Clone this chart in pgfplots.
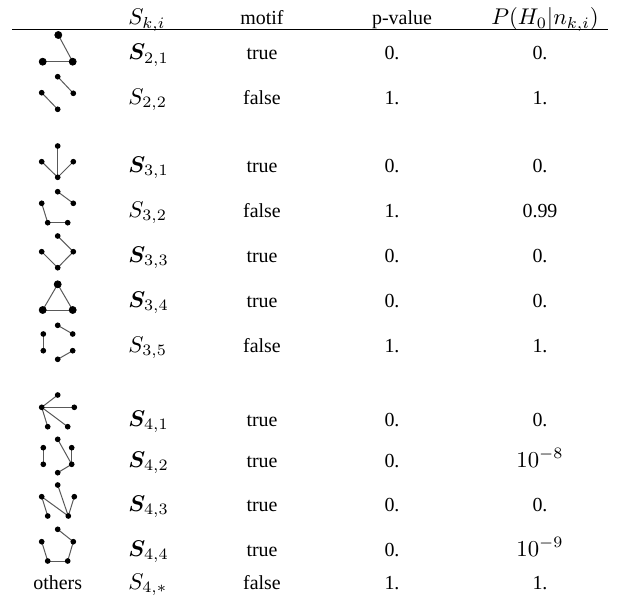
\documentclass[border=0pt]{standalone}
\usepackage{fontspec}
\setmainfont{Liberation Serif}
\usepackage{amsmath,bm}
\usepackage{graphicx}
\usepackage{pgfplots}
\pgfplotsset{compat=1.18}

% edge and vertex styles for the small subgraph glyphs
\pgfplotsset{
    edgeline/.style={draw=black!65,line width=0.5pt,mark=none,forget plot},
    vsmall/.style={only marks,mark=*,mark size=1.2pt,black,forget plot},
    vbig/.style={only marks,mark=*,mark size=1.75pt,black,forget plot}
}
\newcommand{\edge}[4]{\addplot[edgeline] coordinates {(#1,#2)(#3,#4)};}
% math in the table is set a little larger than the text
\newcommand{\M}[1]{\scalebox{1.14}{$#1$}}

\begin{document}
\begin{tikzpicture}
\begin{axis}[
    hide axis,
    scale only axis,
    width=311.5bp,
    height=299.5bp,
    xmin=0, xmax=623,
    ymin=0, ymax=599,
    y dir=reverse,
    clip=false
]
\addplot[draw=none,forget plot] coordinates {(0,0)(623,599)};

%----------------- header and rule
\node[anchor=base west,inner sep=0pt] at (axis cs:128,25) {\M{S_{k,i}}};
\node[anchor=base,inner sep=0pt] at (axis cs:262,25) {motif};
\node[anchor=base,inner sep=0pt] at (axis cs:402,25) {p-value};
\node[anchor=base,inner sep=0pt] at (axis cs:545,25) {\M{P(H_0|n_{k,i})}};
\addplot[black,line width=0.8pt,mark=none,forget plot] coordinates {(12,29.5)(608,29.5)};

%----------------- rows: baseline, label, motif, p-value, posterior
\newcommand{\trow}[5]{%
  \node[anchor=base west,inner sep=0pt] at (axis cs:128,#1) {#2};
  \node[anchor=base,inner sep=0pt] at (axis cs:262,#1) {#3};
  \node[anchor=base,inner sep=0pt] at (axis cs:392,#1) {#4};
  \node[anchor=base,inner sep=0pt] at (axis cs:540,#1) {#5};
}
\trow{60}{\M{\boldsymbol{S}_{2,1}}}{true}{0.}{0.}
\trow{104}{\M{S_{2,2}}}{false}{1.}{1.}
\trow{172}{\M{\boldsymbol{S}_{3,1}}}{true}{0.}{0.}
\trow{217}{\M{S_{3,2}}}{false}{1.}{0.99}
\trow{262}{\M{\boldsymbol{S}_{3,3}}}{true}{0.}{0.}
\trow{307}{\M{\boldsymbol{S}_{3,4}}}{true}{0.}{0.}
\trow{352}{\M{S_{3,5}}}{false}{1.}{1.}
\trow{426}{\M{\boldsymbol{S}_{4,1}}}{true}{0.}{0.}
\trow{467}{\M{\boldsymbol{S}_{4,2}}}{true}{0.}{\M{10^{-8}}}
\trow{511}{\M{\boldsymbol{S}_{4,3}}}{true}{0.}{0.}
\trow{556}{\M{\boldsymbol{S}_{4,4}}}{true}{0.}{\M{10^{-9}}}
\trow{589}{\M{S_{4,*}}}{false}{1.}{1.}
\node[anchor=base,inner sep=0pt] at (axis cs:57.7,589) {others};

%----------------- glyphs
% S_{2,1}
\edge{58.3}{35}{72.7}{61.7}
\edge{42.7}{61.7}{72.7}{61.7}
\addplot[vbig] coordinates {(58.3,35)(42.7,61.7)(72.7,61.7)};
% S_{2,2}
\edge{57.7}{76.7}{73.3}{93.3}
\edge{41.7}{92.7}{57.7}{109.3}
\addplot[vsmall] coordinates {(57.7,76.7)(73.3,93.3)(41.7,92.7)(57.7,109.3)};
% S_{3,1}
\edge{57.7}{146}{57.7}{177.3}
\edge{41.7}{161.7}{57.7}{177.3}
\edge{73.3}{161.7}{57.7}{177.3}
\addplot[vsmall] coordinates {(57.7,146)(41.7,161.7)(73.3,161.7)(57.7,177.3)};
% S_{3,2}
\edge{57.7}{191.7}{73.3}{203.3}
\edge{41.7}{203.3}{47.7}{222.7}
\edge{47.7}{222.7}{67.7}{222.7}
\addplot[vsmall] coordinates {(57.7,191.7)(73.3,203.3)(41.7,203.3)(47.7,222.7)(67.7,222.7)};
% S_{3,3}
\edge{57.7}{236}{73.3}{251.7}
\edge{73.3}{251.7}{57.7}{267.7}
\edge{41.7}{251.7}{57.7}{267.7}
\addplot[vsmall] coordinates {(57.7,236)(73.3,251.7)(41.7,251.7)(57.7,267.7)};
% S_{3,4}
\edge{57.7}{284.3}{42.7}{310}
\edge{57.7}{284.3}{72.7}{310}
\edge{42.7}{310}{72.7}{310}
\addplot[vbig] coordinates {(57.7,284.3)(42.7,310)(72.7,310)};
% S_{3,5}
\edge{57.7}{325.3}{72.7}{334}
\edge{43.3}{334}{43.3}{350.7}
\edge{72.7}{350.7}{57.7}{359.3}
\addplot[vsmall] coordinates {(57.7,325.3)(72.7,334)(43.3,334)(43.3,350.7)(72.7,350.7)(57.7,359.3)};
% S_{4,1}
\edge{41.7}{407.3}{57.7}{395}
\edge{41.7}{407.3}{74.3}{407.3}
\edge{41.7}{407.3}{47.7}{426.7}
\edge{41.7}{407.3}{67.7}{426.7}
\addplot[vsmall] coordinates {(57.7,395)(41.7,407.3)(74.3,407.3)(47.7,426.7)(67.7,426.7)};
% S_{4,2}
\edge{43.3}{447.7}{43.3}{464.3}
\edge{57.7}{439.3}{71.7}{464.3}
\edge{71.7}{447.7}{71.7}{464.3}
\edge{71.7}{464.3}{57.7}{472.7}
\addplot[vsmall] coordinates {(57.7,439.3)(71.7,447.7)(43.3,447.7)(43.3,464.3)(71.7,464.3)(57.7,472.7)};
% S_{4,3}
\edge{41.7}{496.7}{47.7}{516}
\edge{41.7}{496.7}{68.3}{516}
\edge{57.7}{485}{68.3}{516}
\edge{74.3}{496.7}{68.3}{516}
\addplot[vsmall] coordinates {(57.7,485)(41.7,496.7)(74.3,496.7)(47.7,516)(68.3,516)};
% S_{4,4}
\edge{57.7}{529.3}{73.3}{541.7}
\edge{73.3}{541.7}{67.7}{561}
\edge{67.7}{561}{47.7}{561}
\edge{47.7}{561}{41.7}{541.7}
\addplot[vsmall] coordinates {(57.7,529.3)(73.3,541.7)(41.7,541.7)(47.7,561)(67.7,561)};

\end{axis}
\end{tikzpicture}
\end{document}
